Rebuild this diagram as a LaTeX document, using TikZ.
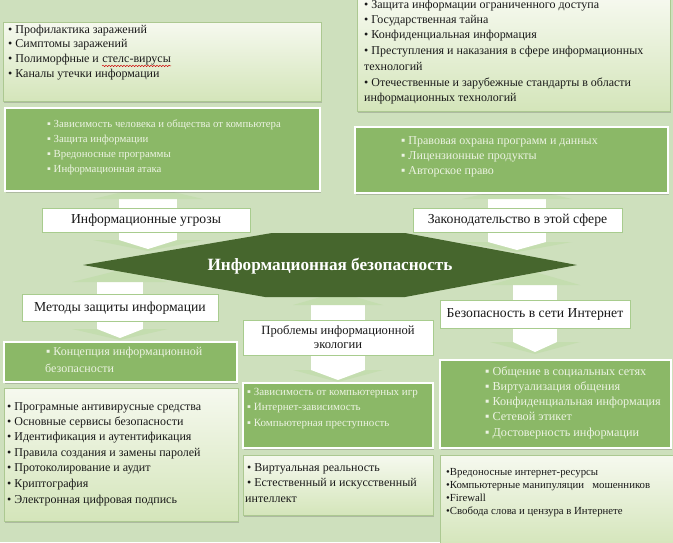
\documentclass[tikz,border=0pt]{standalone}
\usepackage{fontspec}
\setmainfont{Liberation Serif}
\usetikzlibrary{shadows,decorations.pathmorphing}
\definecolor{bg}{RGB}{206,224,189}
\definecolor{lighttop}{RGB}{246,249,239}
\definecolor{lightbot}{RGB}{212,229,186}
\definecolor{lightborder}{RGB}{172,200,145}
\definecolor{boxgreen}{RGB}{139,184,103}
\definecolor{gtext}{RGB}{236,243,226}
\definecolor{hexgreen}{RGB}{70,102,45}
\definecolor{headc}{RGB}{196,221,175}
\definecolor{lblborder}{RGB}{168,204,142}
\definecolor{dtext}{RGB}{25,25,25}
\newcommand\udarrow[7]{%
  \fill[white] ({#1-#2},#4) rectangle ({#1+#2},#5);
  \fill[headc] ({#1-#7},#4) -- (#1,#3) -- ({#1+#7},#4) -- cycle;
  \fill[headc] ({#1-#7},#5) -- (#1,#6) -- ({#1+#7},#5) -- cycle;
  \fill[white] ({#1-#2},#5) -- (#1,{#6-2}) -- ({#1+#2},#5) -- cycle;}
\begin{document}
\begin{tikzpicture}[x=1pt,y=-1pt,
  lightbox/.style={draw=lightborder, line width=0.8pt, top color=lighttop, bottom color=lightbot,
    anchor=north west, inner sep=0pt, outer sep=0pt,
    drop shadow={shadow xshift=1.2pt, shadow yshift=-1.6pt, opacity=0.25, fill=black!70}},
  greenbox/.style={draw=white, line width=2pt, fill=boxgreen, anchor=north west, inner sep=0pt, outer sep=0pt,
    drop shadow={shadow xshift=1.2pt, shadow yshift=-1.6pt, opacity=0.25, fill=black!70}},
  lbl/.style={draw=lblborder, line width=0.8pt, fill=white, inner sep=0pt, outer sep=0pt,
    font=\fontsize{13.7}{15}\selectfont, text=dtext, align=center},
  lt/.style={anchor=base west, inner sep=0pt, font=\fontsize{12}{13}\selectfont, text=dtext},
  st/.style={anchor=base west, inner sep=0pt, font=\fontsize{10.8}{12}\selectfont, text=dtext},
  gt/.style={anchor=base west, inner sep=0pt, font=\fontsize{#1}{13}\selectfont, text=gtext},
  gt/.default=10.8,
  hextext/.style={inner sep=0pt, font=\fontsize{17.2}{19}\selectfont\bfseries, text=white}]
\useasboundingbox (0,0) rectangle (673,542);
\fill[bg] (0,0) rectangle (673,542);

% up-down arrow callouts (shaft and heads)
\udarrow{148}{29}{186}{199}{240}{251}{55}
\udarrow{517}{29}{186}{199}{242}{252}{55}
\udarrow{120}{23}{270}{282}{329}{340}{48}
\udarrow{338}{27}{292}{305}{370}{382}{45}
\udarrow{535}{22}{272}{285}{342}{354}{45}

% central hexagon
\fill[hexgreen] (83,265) -- (272,233) -- (405,233) -- (577,265) -- (405,297) -- (265,297) -- cycle;
\node[hextext] (hex) at (330,266) {Информационная безопасность};

% label boxes
\node[lbl, minimum width=208pt, minimum height=24pt] (lthreat) at (146,220) {Информационные угрозы};
\node[lbl, minimum width=209pt, minimum height=24pt] (llaw) at (517.5,220) {Законодательство в этой сфере};
\node[lbl, minimum width=196pt, minimum height=27pt] (lmeth) at (120,308) {Методы защиты информации};
\node[lbl, minimum width=190pt, minimum height=35pt, font=\fontsize{12.6}{15}\selectfont] (leco) at (338,337.5) {Проблемы информационной\\[-1pt]экологии};
\node[lbl, minimum width=190pt, minimum height=28pt] (lnet) at (535,314) {Безопасность в сети Интернет};

% boxes
\node[lightbox, minimum width=318pt, minimum height=79pt] (tl) at (3,22) {};
\node[lightbox, minimum width=313pt, minimum height=114pt] (tr) at (357,-3) {};
\node[greenbox, minimum width=315pt, minimum height=83pt] (ml) at (5,108) {};
\node[greenbox, minimum width=313pt, minimum height=66pt] (mr) at (355,127) {};
\node[greenbox, minimum width=233pt, minimum height=40pt] (blg) at (4,342) {};
\node[lightbox, minimum width=234pt, minimum height=133pt] (bll) at (4,388) {};
\node[greenbox, minimum width=190pt, minimum height=65pt] (bmg) at (243,383) {};
\node[lightbox, minimum width=190pt, minimum height=60pt] (bml) at (243,455) {};
\node[greenbox, minimum width=231pt, minimum height=88pt] (brg) at (440,360) {};
\node[lightbox, minimum width=236pt, minimum height=92pt] (brl) at (440,455) {};

% texts: top-left
\node[lt] (tlt1) at (8,33) {• Профилактика заражений};
\node[lt] (tlt2) at (8,47.7) {• Симптомы заражений};
\node[lt] (tlt3) at (8,62.4) {• Полиморфные и};
\node[lt] (tlt3b) at ([xshift=3pt]tlt3.base east) {стелс-вирусы};
\node[lt] (tlt4) at (8,77) {• Каналы утечки информации};
\draw[red!80!black, line width=0.5pt, decorate, decoration={snake, amplitude=0.7pt, segment length=3pt}]
  ([yshift=-3.5pt]tlt3b.base west) -- ([yshift=-3.5pt]tlt3b.base east);

% top-right
\foreach \y/\t [count=\i] in {8/{• Защита информации ограниченного доступа}, 23/{• Государственная тайна},
  38.5/{• Конфиденциальная информация}, 54.5/{• Преступления и наказания в сфере информационных},
  70/{технологий}, 86/{• Отечественные и зарубежные стандарты в области}, 101/{информационных технологий}}
  \node[lt] (trt\i) at (364,\y) {\t};

% middle-left green
\foreach \y/\t [count=\i] in {127/{▪ Зависимость человека и общества от компьютера}, 142/{▪ Защита информации},
  157/{▪ Вредоносные программы}, 172/{▪ Информационная атака}}
  \node[gt] (mlt\i) at (47,\y) {\t};

% middle-right green
\foreach \y/\t [count=\i] in {144/{▪ Правовая охрана программ и данных}, 159/{▪ Лицензионные продукты},
  174/{▪ Авторское право}}
  \node[gt=12] (mrt\i) at (401,\y) {\t};

% bottom-left green
\node[gt=12] (blg1) at (46,355) {▪ Концепция информационной};
\node[gt=12] (blg2) at (45,372) {безопасности};

% bottom-left light
\foreach \y/\t [count=\i] in {410/{• Програмные антивирусные средства}, 425/{• Основные сервисы безопасности},
  440.5/{• Идентификация и аутентификация}, 456/{• Правила создания и замены паролей},
  471.5/{• Протоколирование и аудит}, 487/{• Криптография}, 503/{• Электронная цифровая подпись}}
  \node[lt] (blt\i) at (7,\y) {\t};

% bottom-middle green
\foreach \y/\t [count=\i] in {395/{▪ Зависимость от компьютерных игр}, 410.5/{▪ Интернет-зависимость},
  426/{▪ Компьютерная преступность}}
  \node[gt=11] (bmg\i) at (247,\y) {\t};

% bottom-middle light
\node[lt] (bml1) at (247,471) {• Виртуальная реальность};
\node[lt] (bml2) at (247,486.5) {• Естественный и искусственный};
\node[lt] (bml3) at (245,502) {интеллект};

% bottom-right green
\foreach \y/\t [count=\i] in {375/{▪ Общение в  социальных сетях}, 390/{▪ Виртуализация общения},
  405/{▪ Конфиденциальная информация}, 420.5/{▪ Сетевой этикет}, 436/{▪ Достоверность информации}}
  \node[gt=12.2] (brg\i) at (485,\y) {\t};

% bottom-right light
\foreach \y/\t [count=\i] in {475/{•Вредоносные интернет-ресурсы}, 488/{•Компьютерные манипуляции~~ мошенников},
  501/{•Firewall}, 514/{•Свобода слова и цензура в Интернете}}
  \node[st] (brl\i) at (446,\y) {\t};
\end{tikzpicture}
\end{document}
